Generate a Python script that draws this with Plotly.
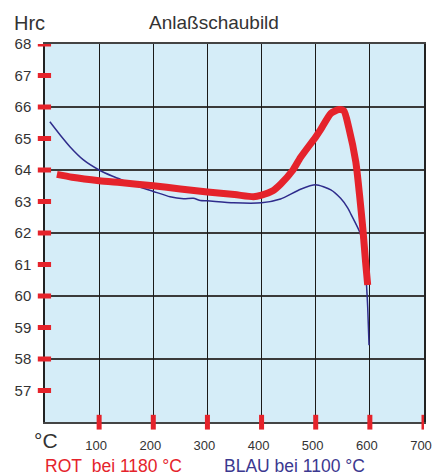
import plotly.graph_objects as go

# Data
rot_temp = [22, 50, 100, 139, 200, 250, 300, 350, 385, 400, 420, 435, 458, 472, 500, 509, 528, 543, 552, 561, 574, 581, 587, 592, 596]
rot_hrc = [63.86, 63.77, 63.66, 63.6, 63.5, 63.4, 63.3, 63.22, 63.15, 63.2, 63.33, 63.55, 64.0, 64.4, 65.05, 65.28, 65.8, 65.92, 65.88, 65.35, 64.26, 63.2, 62.15, 61.1, 60.35]

blau_temp = [9, 28, 46, 71, 100, 125, 150, 175, 200, 231, 256, 274, 287, 300, 348, 400, 435, 472, 500, 528, 546, 559, 565, 582, 589, 594, 596, 598.5]
blau_hrc = [65.53, 65.11, 64.74, 64.32, 64.0, 63.8, 63.63, 63.46, 63.32, 63.15, 63.09, 63.1, 63.03, 63.02, 62.96, 62.96, 63.08, 63.39, 63.53, 63.37, 63.1, 62.8, 62.6, 62.0, 61.4, 60.3, 59.65, 58.44]

y_ticks = [57, 58, 59, 60, 61, 62, 63, 64, 65, 66, 67, 68]
y_grid = [58, 60, 62, 64, 66, 68]
x_ticks = [100, 200, 300, 400, 500, 600, 700]

RED = "#e5232b"
BLUE = "#2f2c8c"
FONT = "Liberation Sans, Arial, sans-serif"

fig = go.Figure()
fig.add_trace(go.Scatter(x=blau_temp, y=blau_hrc, mode="lines",
                         line=dict(color=BLUE, width=1.5, shape="spline", smoothing=0.6),
                         showlegend=False, hoverinfo="skip"))
fig.add_trace(go.Scatter(x=rot_temp, y=rot_hrc, mode="lines",
                         line=dict(color=RED, width=7, shape="spline", smoothing=0.6),
                         showlegend=False, hoverinfo="skip"))

fig.update_layout(
    width=433, height=475,
    margin=dict(l=45, r=9, t=44, b=53, autoexpand=False),
    paper_bgcolor="white",
    plot_bgcolor="#d5edf8",
    font=dict(family=FONT, color="#333333"),
    xaxis=dict(range=[0, 700], tickvals=x_ticks, ticktext=[str(v) for v in x_ticks],
               showgrid=True, gridcolor="#1a1a1a", gridwidth=1.3, automargin=False,
               showline=True, linecolor="#444444", linewidth=2, mirror=True,
               ticks="outside", ticklen=10, tickcolor="rgba(0,0,0,0)",
               ticklabeloverflow="allow", ticklabelshift=-3,
               tickfont=dict(size=13, color="#333333"), zeroline=False, fixedrange=True),
    yaxis=dict(range=[56, 68], tickvals=y_ticks, ticktext=[str(v) for v in y_ticks],
               showgrid=False, automargin=False,
               minor=dict(tickmode="array", tickvals=y_grid, showgrid=True,
                          gridcolor="#3a3a3a", gridwidth=2, ticks=""),
               showline=True, linecolor="#222222", linewidth=1.5, mirror=True,
               ticks="outside", ticklen=9, tickcolor="rgba(0,0,0,0)",
               ticklabeloverflow="allow",
               tickfont=dict(size=15, color="#333333"), zeroline=False, fixedrange=True),
)

shapes = []
for v in y_ticks:
    shapes.append(dict(type="line", xref="paper", yref="y", x0=-0.019, x1=0.016, y0=v, y1=v,
                       line=dict(color=RED, width=5), layer="above"))
for v in x_ticks:
    shapes.append(dict(type="line", xref="x", yref="paper", x0=v, x1=v, y0=-0.02, y1=0.019,
                       line=dict(color=RED, width=5), layer="above"))
fig.update_layout(shapes=shapes)

ann = [
    dict(text="Hrc", x=-0.04, y=1.056, xref="paper", yref="paper", showarrow=False,
         xanchor="center", yanchor="middle", font=dict(size=20, color="#333333")),
    dict(text="Anlaßschaubild", x=0.446, y=1.056, xref="paper", yref="paper", showarrow=False,
         xanchor="center", yanchor="middle", font=dict(size=19, color="#333333")),
    dict(text="°C", x=0.003, y=-0.05, xref="paper", yref="paper", showarrow=False,
         xanchor="center", yanchor="middle", font=dict(size=21, color="#333333")),
    dict(text="ROT\u00a0 bei 1180 °C", x=-0.006, y=-0.116, xref="paper", yref="paper", showarrow=False,
         xanchor="left", yanchor="middle", font=dict(size=17.5, color=RED)),
    dict(text="BLAU bei 1100 °C", x=0.467, y=-0.116, xref="paper", yref="paper", showarrow=False,
         xanchor="left", yanchor="middle", font=dict(size=17.5, color="#3b3890")),
]
fig.update_layout(annotations=ann)

fig.write_html("out.html", config={"displayModeBar": False},
               post_script="document.body.style.margin='0px';")
